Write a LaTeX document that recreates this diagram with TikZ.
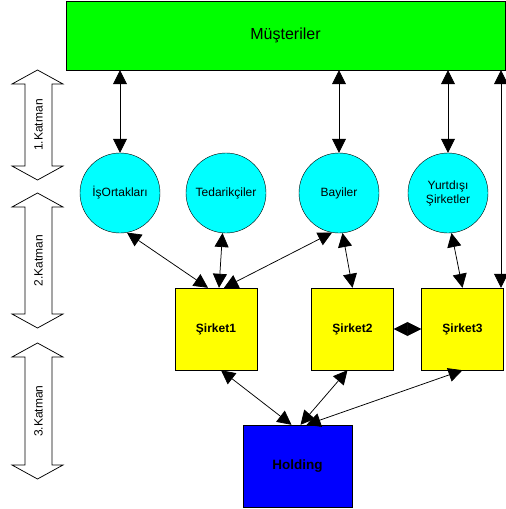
\documentclass[tikz,border=0pt]{standalone}
\usepackage{fontspec}
\setmainfont{Liberation Sans}
\usetikzlibrary{arrows.meta}
\definecolor{turkuaz}{RGB}{0,255,255}
\definecolor{yesil}{RGB}{0,255,0}
\definecolor{sari}{RGB}{255,255,0}
\definecolor{mavi}{RGB}{0,0,255}

\begin{document}
\begin{tikzpicture}[x=1pt,y=1pt,yscale=-1,xscale=1,
  every node/.style={inner sep=0.75pt},
  katman/.style={draw, fill=white, line width=0.75pt},
  daire/.style={circle, draw, fill=turkuaz, minimum size=80pt, font=\fontsize{12}{14}\selectfont, align=center},
  sirket/.style={draw, fill=sari, minimum width=82pt, minimum height=82pt, font=\bfseries\fontsize{12}{14}\selectfont},
  iki/.style={{Triangle[length=14pt,width=14pt]}-{Triangle[length=14pt,width=14pt]}, line width=0.75pt}]
\useasboundingbox (0,0) rectangle (506,509);

%Shape: Katman arrows
\foreach \a/\b/\n in {70/180/1, 193/328/2, 343/479/3}{
  \draw [katman] (37.5,\a) -- (63,{\a+14}) -- (52,{\a+14}) -- (52,{\b-14}) -- (63,{\b-14}) -- (37.5,\b) -- (12,{\b-14}) -- (25,{\b-14}) -- (25,{\a+14}) -- (12,{\a+14}) -- cycle ;
  \node [rotate=90, font=\fontsize{12}{14}\selectfont] (k\n) at (38.5,{(\a+\b)/2}) {\n.Katman};
}

%Shape: Rectangle
\node [draw, fill=yesil, minimum width=439pt, minimum height=69pt, font=\fontsize{16}{18}\selectfont] (musteri) at (285.5,35.5) {Müşteriler};

%Shape: Circles
\node [daire] (isort) at (120,193) {İşOrtakları};
\node [daire] (tedarik) at (226,193) {Tedarikçiler};
\node [daire] (bayi) at (339,193) {Bayiler};
\node [daire] (yurtdisi) at (448,193) {Yurtdışı\\Şirketler};

%Shape: Squares
\node [sirket] (s1) at (216,329) {Şirket1};
\node [sirket] (s2) at (352.5,329) {Şirket2};
\node [sirket] (s3) at (462.5,329) {Şirket3};
\node [draw, fill=mavi, minimum width=109pt, minimum height=82pt, font=\bfseries\fontsize{13.5}{16}\selectfont] (hold) at (297.5,466) {Holding};

%Straight Lines
\coordinate (sag) at (501,0);
\draw [iki] (musteri.south -| isort) -- (isort.north) ;
\draw [iki] (musteri.south -| bayi) -- (bayi.north) ;
\draw [iki] (musteri.south -| yurtdisi) -- (yurtdisi.north) ;
\draw [iki] (musteri.south -| sag) -- (s3.north -| sag) ;
\draw [iki] (isort.-80) -- ([xshift=-8pt]s1.north) ;
\draw [iki] (tedarik.-95) -- ([xshift=3pt]s1.north) ;
\draw [iki] (bayi.-100) -- ([xshift=8pt]s1.north) ;
\draw [iki] (bayi.-85) -- (s2.north) ;
\draw [iki] (yurtdisi.-85) -- (s3.north) ;
\draw [iki] (s2.east) -- (s3.west) ;
\draw [iki] ([xshift=5pt]s1.south) -- ([xshift=-6pt]hold.north) ;
\draw [iki] ([xshift=-5pt]s2.south) -- ([xshift=3pt]hold.north) ;
\draw [iki] (s3.south) -- ([xshift=9pt]hold.north) ;

\end{tikzpicture}
\end{document}
